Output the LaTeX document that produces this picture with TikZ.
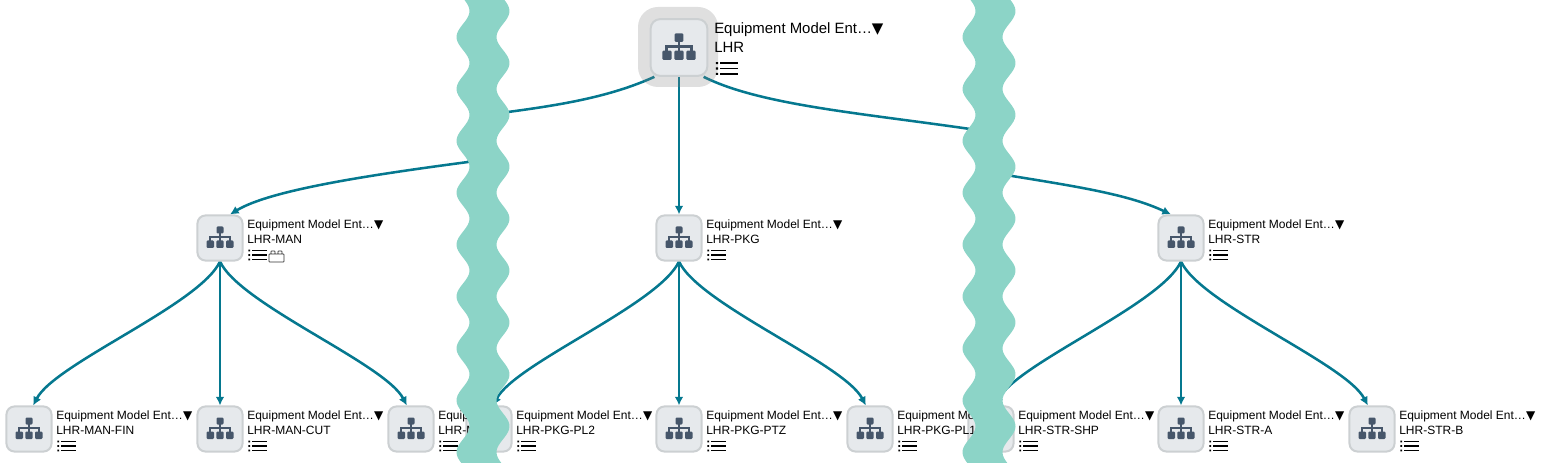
\documentclass[tikz,border=0pt]{standalone}
\usepackage{fontspec}
\setmainfont{Liberation Sans}
\newfontfamily\symfont{DejaVu Sans}
\usetikzlibrary{backgrounds,arrows.meta}
\definecolor{linkteal}{HTML}{05788F}
\definecolor{tearfill}{HTML}{8CD4C7}
\definecolor{boxfill}{HTML}{E6E9EC}
\definecolor{boxedge}{HTML}{CCD0D2}
\definecolor{glyph}{HTML}{46566A}
\newcommand{\fulltitle}{Equipment Model Ent…{\symfont ▼}}
\tikzset{
  orgicon/.pic={
    \fill[glyph,rounded corners=0.8pt] (-3.5,-11.5) rectangle (3.5,-4.5);
    \draw[glyph,line width=1.9pt] (0,-5) -- (0,3) (-10,3) -- (-10,-1) -- (10,-1) -- (10,3);
    \fill[glyph,rounded corners=0.8pt] (-13.5,2.5) rectangle (-6,10);
    \fill[glyph,rounded corners=0.8pt] (-3.7,2.5) rectangle (3.7,10);
    \fill[glyph,rounded corners=0.8pt] (6,2.5) rectangle (13.5,10);
  },
  listicon/.pic={
    \draw[black,line width=1.4pt] (4,-4.5) -- (19,-4.5) (4,0) -- (19,0) (4,4.5) -- (19,4.5);
    \fill[black] (0.3,-5.4) rectangle (2.1,-3.6) (0.3,-0.9) rectangle (2.1,0.9) (0.3,3.6) rectangle (2.1,5.4);
  }
}
\begin{document}
\begin{tikzpicture}[x=0.75pt,y=-0.75pt]
    % `equipbox' is the icon tile, `rootglow' the selection halo behind the root.
    % `link' is used for the connectors, `tear' for the wavy bands.
    \tikzstyle{equipbox} = [draw=boxedge,fill=boxfill,line width=1.5pt,rounded corners=6pt,minimum size=33.8pt,inner sep=0pt]
    \tikzstyle{rootglow} = [fill=black!50,fill opacity=0.25,rounded corners=15pt,minimum size=60pt,inner sep=0pt]
    \tikzstyle{label} = [inner sep=0pt,anchor=base west,font=\fontsize{9}{10}\selectfont]
    \tikzstyle{biglabel} = [inner sep=0pt,anchor=base west,font=\fontsize{11.2}{12}\selectfont]
    \tikzstyle{link} = [draw=linkteal,line width=1.9pt,-{Latex[length=6.5pt,width=6.5pt]}]
    \tikzstyle{tear} = [fill=tearfill]
    \useasboundingbox (0,0) rectangle (1544,463);
    %
    % Root node.
    \node[rootglow] (glow) at (678,47) {};
    \node[equipbox,minimum size=42.5pt,rounded corners=7pt] (lhr) at (679,47.5) {};
    \pic[scale=1.23] at (lhr) {orgicon};
    \node[biglabel] (lhrtitle) at (714,34) {\fulltitle};
    \node[biglabel] (lhrname) at (714,53) {LHR};
    \pic[scale=1.2] at (715.5,68.5) {listicon};
    %
    % Middle row and leaves.
    \foreach \id/\x/\y/\name/\head in {man/220/238/LHR-MAN/\fulltitle,pkg/679/238/LHR-PKG/\fulltitle,str/1181/238/LHR-STR/\fulltitle,
        manfin/29/429/LHR-MAN-FIN/\fulltitle,mancut/220/429/LHR-MAN-CUT/\fulltitle,
        pkgpl2/489/429/LHR-PKG-PL2/\fulltitle,manend/411/429/LHR-M/Equip,
        pkgptz/679/429/LHR-PKG-PTZ/\fulltitle,strshp/991/429/LHR-STR-SHP/\fulltitle,
        pkgpl1/870/429/LHR-PKG-PL1/Equipment Mo,stra/1181/429/LHR-STR-A/\fulltitle,strb/1372/429/LHR-STR-B/\fulltitle} {
      \node[equipbox] (\id) at (\x,\y) {};
      \pic at (\id) {orgicon};
      \node[label] (\id title) at ({\x+27},{\y-9.5}) {\head};
      \node[label] (\id name) at ({\x+27},{\y+5.4}) {\name};
      \pic at ({\x+28},{\y+17}) {listicon};
    }
    % The small brick next to the list of LHR-MAN.
    \draw[black!80,line width=0.5pt,rounded corners=0.5pt] (269,262) rectangle (284,254)
      (271,254) -- (271,251) -- (275,251) -- (275,254) (278,254) -- (278,251) -- (282,251) -- (282,254);
    %
    \begin{pgfonlayer}{background}
        % Draw lines, broken where the bands hide them.
        \draw[link] (lhr.-130) .. controls (610,97) and (560,105) .. (508,112) -- (468,162)
          .. controls (370,175) and (270,190) .. (man.67);
        \draw[link] (lhr.south) -- (pkg.north);
        \draw[link] (lhr.-50) .. controls (760,105) and (860,113) .. (970,129) -- (1012,176)
          .. controls (1080,187) and (1130,195) .. (str.113);
        \foreach \hub/\lft/\mid/\rgt in {man/manfin/mancut/manend,pkg/pkgpl2/pkgptz/pkgpl1,str/strshp/stra/strb} {
          \draw[link] (\hub.south) .. controls +(-20,43) and +(22,-42) .. (\lft.80);
          \draw[link] (\hub.south) -- (\mid.north);
          \draw[link] (\hub.south) .. controls +(20,43) and +(-22,-42) .. (\rgt.100);
        }
    \end{pgfonlayer}
    %
    % Wavy bands on top of everything.
    \foreach \bandx in {0,506} {
      \fill[tear,shift={(\bandx,0)}]
        plot[domain=0:463,samples=180] ({463-6.5*cos(6.936*(\x-37))},\x)
        -- plot[domain=463:0,samples=180] ({503-6.5*cos(6.936*(\x-37))},\x) -- cycle;
    }
\end{tikzpicture}
\end{document}
